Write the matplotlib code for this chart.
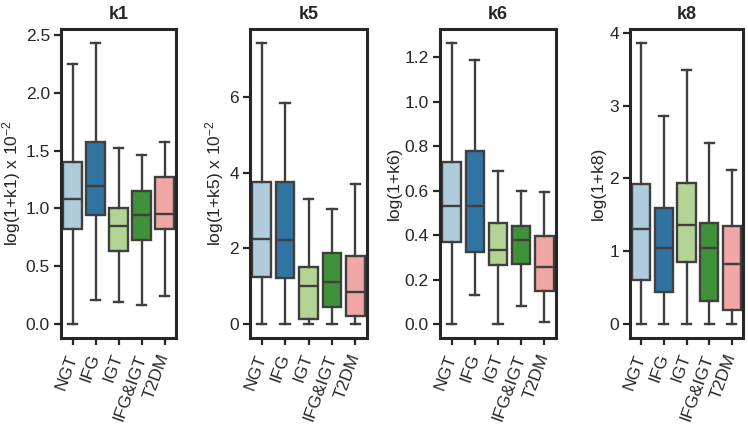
import colorsys
import matplotlib
matplotlib.use("Agg")
import matplotlib.pyplot as plt
import matplotlib.colors as mcolors
from matplotlib.ticker import MultipleLocator

plt.rcParams["font.family"] = ["Liberation Sans", "DejaVu Sans"]
plt.rcParams["mathtext.default"] = "regular"
plt.rcParams["font.size"] = 13

groups = ["NGT", "IFG", "IGT", "IFG&IGT", "T2DM"]
panels = ["k1", "k5", "k6", "k8"]
ylabels = [r"log(1+k1) x 10$^{-2}$", r"log(1+k5) x 10$^{-2}$", "log(1+k6)", "log(1+k8)"]
tick_steps = [0.5, 2, 0.2, 1]

# box stats per panel: whisker low, q1, median, q3, whisker high (one value per group)
k1_lo = [0.0, 0.21, 0.19, 0.16, 0.24]
k1_q1 = [0.82, 0.94, 0.63, 0.73, 0.82]
k1_med = [1.08, 1.19, 0.85, 0.94, 0.95]
k1_q3 = [1.40, 1.57, 1.00, 1.15, 1.27]
k1_hi = [2.25, 2.43, 1.52, 1.46, 1.57]

k5_lo = [0.0, 0.0, 0.0, 0.0, 0.0]
k5_q1 = [1.25, 1.22, 0.12, 0.46, 0.20]
k5_med = [2.25, 2.23, 1.00, 1.10, 0.84]
k5_q3 = [3.74, 3.76, 1.51, 1.88, 1.80]
k5_hi = [7.42, 5.84, 3.30, 3.04, 3.71]

k6_lo = [0.0, 0.13, 0.0, 0.08, 0.01]
k6_q1 = [0.37, 0.325, 0.265, 0.27, 0.15]
k6_med = [0.53, 0.53, 0.335, 0.38, 0.255]
k6_q3 = [0.73, 0.78, 0.455, 0.44, 0.395]
k6_hi = [1.265, 1.19, 0.69, 0.60, 0.595]

k8_lo = [0.0, 0.0, 0.0, 0.0, 0.0]
k8_q1 = [0.61, 0.44, 0.85, 0.32, 0.19]
k8_med = [1.31, 1.05, 1.36, 1.05, 0.82]
k8_q3 = [1.92, 1.59, 1.94, 1.39, 1.35]
k8_hi = [3.86, 2.86, 3.49, 2.49, 2.12]

data = [
    (k1_lo, k1_q1, k1_med, k1_q3, k1_hi),
    (k5_lo, k5_q1, k5_med, k5_q3, k5_hi),
    (k6_lo, k6_q1, k6_med, k6_q3, k6_hi),
    (k8_lo, k8_q1, k8_med, k8_q3, k8_hi),
]

palette = ["#a6cee3", "#1f78b4", "#b2df8a", "#33a02c", "#fb9a99"]


def desaturate(c, prop=0.75):
    r, g, b = mcolors.to_rgb(c)
    h, l, s = colorsys.rgb_to_hls(r, g, b)
    return colorsys.hls_to_rgb(h, l, s * prop)


colors = [desaturate(c) for c in palette]
line_col = "#3f3f3f"
dark = "#262626"

fig = plt.figure(figsize=(7.48, 4.26), dpi=100)
lefts = [61, 250, 440, 630]
widths = [115, 117, 116, 113]

for i, (name, ylab, vals) in enumerate(zip(panels, ylabels, data)):
    ax = fig.add_axes([lefts[i] / 748, 1 - 338 / 426, widths[i] / 748, (338 - 29) / 426])
    lo, q1, med, q3, hi = vals
    stats = []
    for j, g in enumerate(groups):
        stats.append({"label": g, "whislo": lo[j], "q1": q1[j], "med": med[j],
                      "q3": q3[j], "whishi": hi[j], "fliers": []})
    bp = ax.bxp(stats, positions=range(len(groups)), widths=0.8, patch_artist=True,
                showfliers=False,
                boxprops=dict(edgecolor=line_col, linewidth=1.7),
                medianprops=dict(color=line_col, linewidth=1.7),
                whiskerprops=dict(color=line_col, linewidth=1.7),
                capprops=dict(color=line_col, linewidth=1.7))
    for patch, c in zip(bp["boxes"], colors):
        patch.set_facecolor(c)
    ax.set_xlim(-0.5, len(groups) - 0.5)
    ax.margins(y=0.05)
    ax.yaxis.set_major_locator(MultipleLocator(tick_steps[i]))
    ax.set_title(name, fontweight="bold", fontsize=13, color=dark, pad=7)
    ax.set_ylabel(ylab, fontsize=12.5, color=dark, labelpad=2)
    ax.set_xticks(range(len(groups)))
    ax.set_xticklabels(groups, rotation=70, ha="right", va="center",
                       rotation_mode="anchor", fontsize=12.5)
    for sp in ax.spines.values():
        sp.set_linewidth(2.2)
        sp.set_color(dark)
    ax.tick_params(axis="y", direction="out", length=5, width=1.6, color=dark,
                   labelsize=12.5, labelcolor=dark, pad=3)
    ax.tick_params(axis="x", direction="out", length=5, width=1.6, color=dark,
                   labelcolor=dark, pad=7)

fig.savefig("out.png", dpi=100)
